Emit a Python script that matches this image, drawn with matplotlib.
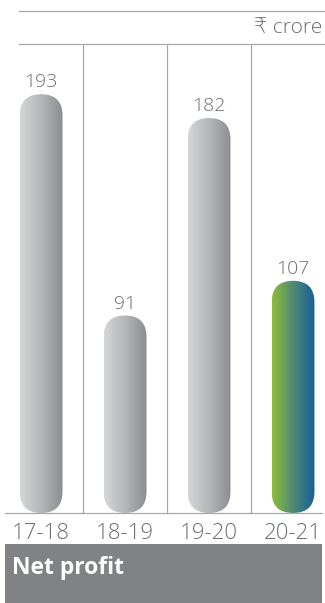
import numpy as np
import matplotlib
matplotlib.use("Agg")
import matplotlib.pyplot as plt
from matplotlib.patches import FancyBboxPatch, Rectangle
from matplotlib.lines import Line2D
from matplotlib.colors import LinearSegmentedColormap
from matplotlib.transforms import blended_transform_factory

plt.rcParams["font.family"] = ["Open Sans", "DejaVu Sans"]

# ── data ───────────────────────────────────────────────
years = ["17-18", "18-19", "19-20", "20-21"]
net_profit = [193, 91, 182, 107]
highlight = [False, False, False, True]
unit_label = "₹ crore"
title = "Net profit"

W, H = 325, 603
fig = plt.figure(figsize=(W / 100, H / 100), dpi=100)

# chart area in pixels (from top-left)
left_px, right_px, top_px, base_px = 5, 322, 10, 513
ax = fig.add_axes([left_px / W, 1 - base_px / H,
                   (right_px - left_px) / W, (base_px - top_px) / H])

px_per_unit = 2.17
ymax = (base_px - top_px) / px_per_unit
xlo, xhi = -0.43, 3.345
bar_w = 0.51

gray_cm = LinearSegmentedColormap.from_list("g", ["#d6d7d9", "#b4b5b7", "#8c8d90"])
green_cm = LinearSegmentedColormap.from_list("gb", ["#8fbc3a", "#4d8a73", "#1a5c9e"])
grad = np.linspace(0, 1, 256).reshape(1, -1)

# rounding correction for unequal x/y scaling
px_per_x = (right_px - left_px) / (xhi - xlo)
aspect = px_per_x / px_per_unit

for i, (v, hl) in enumerate(zip(net_profit, highlight)):
    x0 = i - bar_w / 2
    patch = FancyBboxPatch((x0, 0), bar_w, v,
                           boxstyle=f"round,pad=0,rounding_size={bar_w / 2}",
                           mutation_aspect=aspect, fc="none", ec="none")
    ax.add_patch(patch)
    im = ax.imshow(grad, cmap=green_cm if hl else gray_cm, aspect="auto",
                   extent=[x0, x0 + bar_w, 0, v], interpolation="bicubic")
    im.set_clip_path(patch)
    ax.annotate(str(v), (i, v), xytext=(0, 5), textcoords="offset points",
                ha="center", va="baseline", fontsize=14, fontweight="light",
                color="#6d6e71")
    ax.annotate(years[i], (i, 0), xytext=(0, -18.5), textcoords="offset points",
                ha="center", va="baseline", fontsize=16, fontweight="light",
                color="#6d6e71")

ax.set_xlim(xlo, xhi)
ax.set_ylim(0, ymax)
for s in ["top", "left", "right"]:
    ax.spines[s].set_visible(False)
ax.spines["bottom"].set_color("#a7a9ac")
ax.spines["bottom"].set_linewidth(0.9)
ax.set_xticks([])
ax.set_yticks([])
ax.patch.set_alpha(0)

# separators between years
trans = blended_transform_factory(ax.transData, ax.transAxes)
sep_top = (base_px - 44) / (base_px - top_px)
for i in range(len(years) - 1):
    ax.plot([i + 0.5, i + 0.5], [0, sep_top], transform=trans,
            color="#a7a9ac", lw=0.9, clip_on=False)

# header rules and unit label
for ypx in (10.5, 44):
    fig.add_artist(Line2D([19 / W, 1], [1 - ypx / H] * 2,
                          color="#a7a9ac", lw=0.9))
fig.text(right_px / W, 1 - 28 / H, unit_label, ha="right", va="center",
         fontsize=15, fontweight="light", color="#6d6e71")

# footer band
fig.add_artist(Rectangle((left_px / W, 0), (right_px - left_px) / W, (H - 544) / H,
                         transform=fig.transFigure, color="#808285", lw=0))
fig.text(12 / W, 1 - 574 / H, title, ha="left", va="baseline",
         fontsize=16.5, fontweight="bold", color="white")

fig.savefig("out.png", dpi=100)
